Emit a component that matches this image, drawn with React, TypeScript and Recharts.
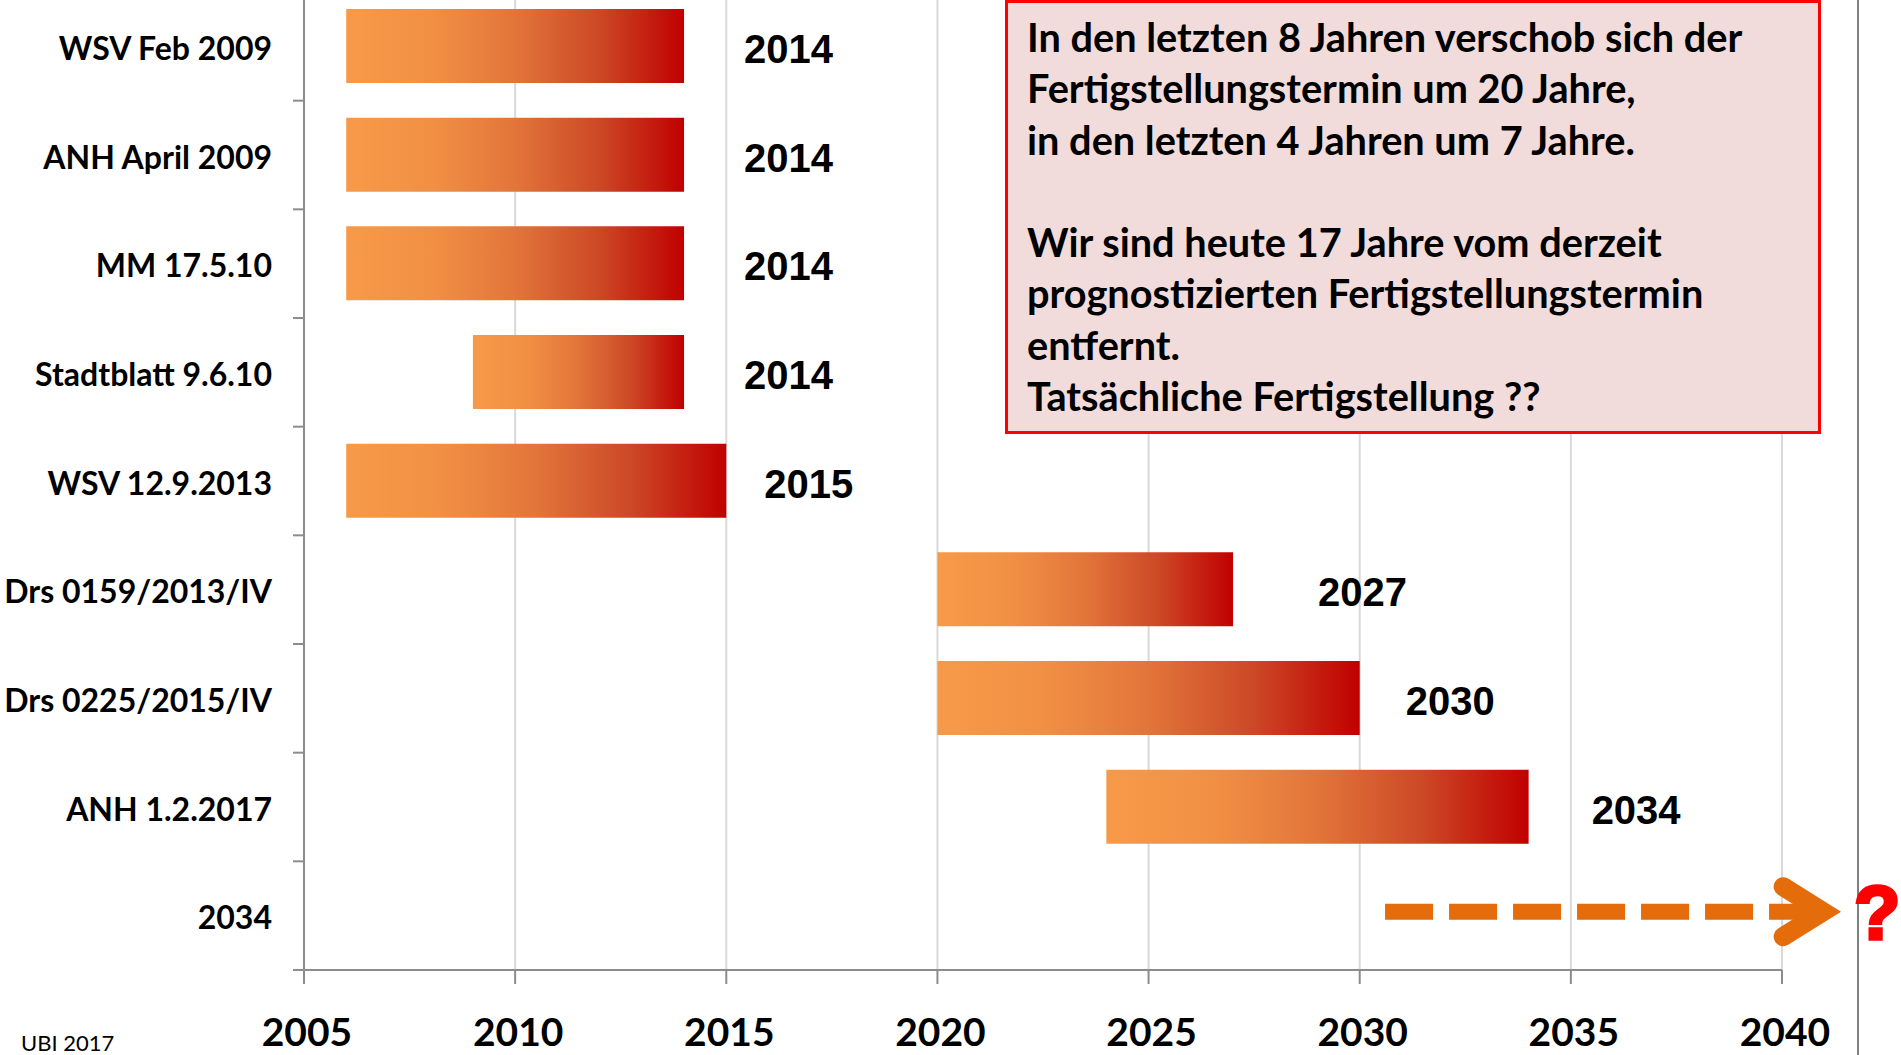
import React from 'react';
import { BarChart, Bar, XAxis, YAxis, CartesianGrid, LabelList, ReferenceLine } from 'recharts';

// ---- data ----
const categories = [
  'WSV Feb 2009',
  'ANH April 2009',
  'MM 17.5.10',
  'Stadtblatt 9.6.10',
  'WSV 12.9.2013',
  'Drs 0159/2013/IV',
  'Drs 0225/2015/IV',
  'ANH 1.2.2017',
  '2034',
];
const startYears: (number | null)[] = [2006, 2006, 2006, 2009, 2006, 2020, 2020, 2024, null];
const endYears: (number | null)[] = [2014, 2014, 2014, 2014, 2015, 2027, 2030, 2034, null];
const xTicks = [2005, 2010, 2015, 2020, 2025, 2030, 2035, 2040];
const xDomain = [2005, 2040];
const arrowFromYear = 2030.6;
const arrowToYear = 2041.4;
const arrowRow = '2034';
const boxLines = [
  'In den letzten 8 Jahren verschob sich der',
  'Fertigstellungstermin um 20 Jahre,',
  'in den letzten 4 Jahren um 7 Jahre.',
  '',
  'Wir sind heute 17 Jahre vom derzeit',
  'prognostizierten Fertigstellungstermin',
  'entfernt.',
  'Tatsächliche Fertigstellung ??',
];
const footnote = 'UBI 2017';

// ---- styling / layout constants ----
const LABEL_GAP = [60, 60, 60, 60, 38, 85, 46, 63, 60];
const CHART_W = 1901;
const CHART_H = 1063;
const Y_AXIS_W = 304;
const X_AXIS_H = 85;
const PLOT_H = CHART_H - X_AXIS_H;
const BAND = PLOT_H / categories.length;
const AXIS_GREY = '#8C8C8C';
const ORANGE = '#E46C0A';

const data = categories.map((name, i) => ({
  name,
  range: startYears[i] != null && endYears[i] != null ? [startYears[i], endYears[i]] : null,
  end: endYears[i],
}));

const YTick = (props: any) => {
  const { payload } = props;
  const cy = payload.coordinate;
  return (
    <g>
      <text
        x={Y_AXIS_W - 32}
        y={cy + 1}
        textAnchor="end"
        dominantBaseline="central"
        fontFamily="Lato, 'Open Sans', sans-serif"
        fontWeight={700}
        fontSize={32}
        fill="#000"
      >
        {payload.value}
      </text>
      <line x1={Y_AXIS_W - 11} x2={Y_AXIS_W} y1={cy + BAND / 2} y2={cy + BAND / 2} stroke={AXIS_GREY} strokeWidth={2} />
    </g>
  );
};

const XTick = (props: any) => {
  const { payload } = props;
  return (
    <text
      x={payload.coordinate + 3}
      y={PLOT_H + 61}
      textAnchor="middle"
      dominantBaseline="central"
      fontFamily="Lato, 'Open Sans', sans-serif"
      fontWeight={700}
      fontSize={39}
      fill="#000"
    >
      {payload.value}
    </text>
  );
};

const EndLabel = (props: any) => {
  const { x, y, width, height, value, index } = props;
  if (value == null || x == null) return null;
  return (
    <text
      x={x + width + LABEL_GAP[index]}
      y={y + height / 2 + 3}
      textAnchor="start"
      dominantBaseline="central"
      fontFamily="'Liberation Sans', Arial, sans-serif"
      fontWeight={700}
      fontSize={40}
      fill="#000"
    >
      {value}
    </text>
  );
};

const ArrowShape = (props: any) => {
  const { x1, x2 } = props;
  const y = props.y1 - 4;
  if (x1 == null || x2 == null || isNaN(y)) return null;
  return (
    <g>
      <line x1={x1} x2={x2 - 22} y1={y} y2={y} stroke={ORANGE} strokeWidth={16} strokeDasharray="48 16" />
      <polyline
        points={`${x2 - 58},${y - 25} ${x2 - 18},${y} ${x2 - 58},${y + 25}`}
        fill="none"
        stroke={ORANGE}
        strokeWidth={19}
        strokeLinecap="round"
        strokeLinejoin="miter"
      />
      <text
        x={x2 + 36}
        y={y + 27}
        textAnchor="middle"
        fontFamily="'Liberation Sans', Arial, sans-serif"
        fontWeight={900}
        fontSize={76}
        fill="#FF0000"
        stroke="#FF0000"
        strokeWidth={3.5}
      >
        ?
      </text>
    </g>
  );
};

export default function App() {
  return (
    <div style={{ position: 'absolute', left: 0, top: 0, width: 1901, height: 1055, overflow: 'hidden', background: '#fff' }}>
      <div style={{ position: 'absolute', left: 1857, top: 0, width: 2, height: 1055, background: '#7F7F7F' }} />
      <div style={{ position: 'absolute', left: 0, top: -8 }}>
        <BarChart
          width={CHART_W}
          height={CHART_H}
          data={data}
          layout="vertical"
          margin={{ top: 0, right: CHART_W - 1782, bottom: 0, left: 0 }}
        >
          <defs>
            <linearGradient id="barGrad" x1="0" y1="0" x2="1" y2="0">
              <stop offset="0%" stopColor="#F79A48" />
              <stop offset="25%" stopColor="#F19044" />
              <stop offset="50%" stopColor="#E2753A" />
              <stop offset="75%" stopColor="#CC4826" />
              <stop offset="100%" stopColor="#C00000" />
            </linearGradient>
          </defs>
          <CartesianGrid horizontal={false} stroke="#D9D9D9" strokeWidth={2} />
          <XAxis
            type="number"
            domain={xDomain}
            ticks={xTicks}
            height={X_AXIS_H}
            tickSize={14}
            axisLine={{ stroke: AXIS_GREY, strokeWidth: 2 }}
            tickLine={{ stroke: AXIS_GREY, strokeWidth: 2 }}
            tick={<XTick />}
            interval={0}
            allowDataOverflow
          />
          <YAxis
            type="category"
            dataKey="name"
            width={Y_AXIS_W}
            axisLine={{ stroke: AXIS_GREY, strokeWidth: 2 }}
            tickLine={false}
            tick={<YTick />}
            interval={0}
          />
          <Bar dataKey="range" fill="url(#barGrad)" barSize={74} isAnimationActive={false}>
            <LabelList dataKey="end" content={<EndLabel />} />
          </Bar>
          <ReferenceLine
            segment={[
              { x: arrowFromYear, y: arrowRow },
              { x: arrowToYear, y: arrowRow },
            ]}
            ifOverflow="visible"
            shape={ArrowShape}
          />
        </BarChart>
      </div>
      <div
        style={{
          position: 'absolute',
          left: 1005,
          top: 0,
          width: 816,
          height: 434,
          boxSizing: 'border-box',
          border: '3px solid #FF0000',
          background: '#F2DCDB',
          paddingLeft: 19,
          paddingTop: 8,
          fontFamily: "Lato, 'Open Sans', sans-serif",
          fontWeight: 700,
          fontSize: 39.7,
          lineHeight: '51.3px',
          color: '#000',
          whiteSpace: 'nowrap',
        }}
      >
        {boxLines.map((l, i) => (
          <div key={i}>{l === '' ? '\u00a0' : l}</div>
        ))}
      </div>
      <div
        style={{
          position: 'absolute',
          left: 21,
          top: 1032,
          fontFamily: "Lato, 'Open Sans', sans-serif",
          fontSize: 22,
          lineHeight: '22px',
          color: '#000',
        }}
      >
        {footnote}
      </div>
    </div>
  );
}
